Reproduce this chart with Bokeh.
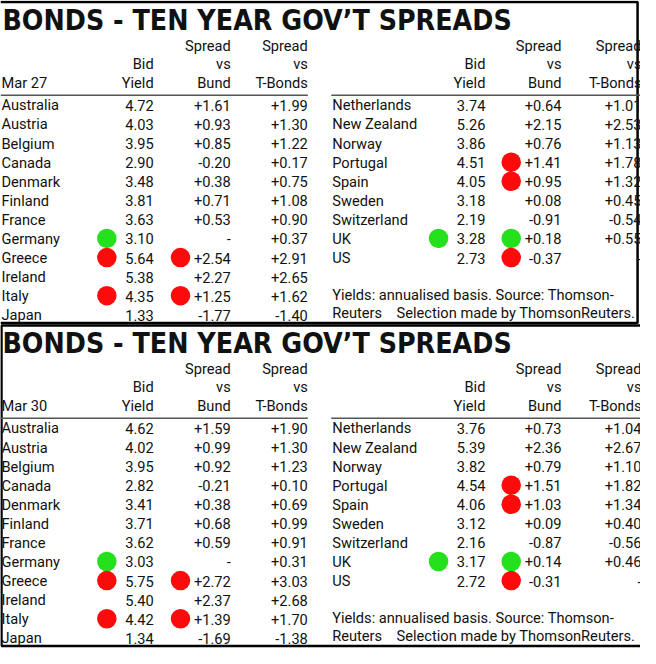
from bokeh.plotting import figure
from bokeh.models import Range1d, ColumnDataSource
from bokeh.embed import file_html
from bokeh.resources import INLINE
from bokeh.core.properties import value

# ---------------- data ----------------
title_text = "BONDS - TEN YEAR GOV\u2019T SPREADS"
dates = ["Mar 27", "Mar 30"]

countries_left = ["Australia", "Austria", "Belgium", "Canada", "Denmark", "Finland",
                  "France", "Germany", "Greece", "Ireland", "Italy", "Japan"]
countries_right = ["Netherlands", "New Zealand", "Norway", "Portugal", "Spain",
                   "Sweden", "Switzerland", "UK", "US"]

# Mar 27
yield_l_27 = [4.72, 4.03, 3.95, 2.90, 3.48, 3.81, 3.63, 3.10, 5.64, 5.38, 4.35, 1.33]
bund_l_27 = [1.61, 0.93, 0.85, -0.20, 0.38, 0.71, 0.53, None, 2.54, 2.27, 1.25, -1.77]
tb_l_27 = [1.99, 1.30, 1.22, 0.17, 0.75, 1.08, 0.90, 0.37, 2.91, 2.65, 1.62, -1.40]
yield_r_27 = [3.74, 5.26, 3.86, 4.51, 4.05, 3.18, 2.19, 3.28, 2.73]
bund_r_27 = [0.64, 2.15, 0.76, 1.41, 0.95, 0.08, -0.91, 0.18, -0.37]
tb_r_27 = [1.01, 2.53, 1.13, 1.78, 1.32, 0.45, -0.54, 0.55, None]

# Mar 30
yield_l_30 = [4.62, 4.02, 3.95, 2.82, 3.41, 3.71, 3.62, 3.03, 5.75, 5.40, 4.42, 1.34]
bund_l_30 = [1.59, 0.99, 0.92, -0.21, 0.38, 0.68, 0.59, None, 2.72, 2.37, 1.39, -1.69]
tb_l_30 = [1.90, 1.30, 1.23, 0.10, 0.69, 0.99, 0.91, 0.31, 3.03, 2.68, 1.70, -1.38]
yield_r_30 = [3.76, 5.39, 3.82, 4.54, 4.06, 3.12, 2.16, 3.17, 2.72]
bund_r_30 = [0.73, 2.36, 0.79, 1.51, 1.03, 0.09, -0.87, 0.14, -0.31]
tb_r_30 = [1.04, 2.67, 1.10, 1.82, 1.34, 0.40, -0.56, 0.46, None]

# signal dots (g = green, r = red, None = no dot)
yield_dot_l = [None, None, None, None, None, None, None, "g", "r", None, "r", None]
bund_dot_l = [None, None, None, None, None, None, None, None, "r", None, "r", None]
yield_dot_r = [None, None, None, None, None, None, None, "g", None]
bund_dot_r = [None, None, None, "r", "r", None, None, "g", "r"]

footnote_1 = "Yields: annualised basis. Source: Thomson-"
footnote_2a = "Reuters"
footnote_2b = "Selection made by ThomsonReuters."

panels = [
    (dates[0], yield_l_27, bund_l_27, tb_l_27, yield_r_27, bund_r_27, tb_r_27),
    (dates[1], yield_l_30, bund_l_30, tb_l_30, yield_r_30, bund_r_30, tb_r_30),
]

# ---------------- layout ----------------
W_REF, H_REF = 656, 664
W, H = 640, 648
S = W / W_REF

BODY_FONT = value("Roboto")
TITLE_FONT = value("DejaVu Sans Condensed")
BODY_PX = 15.0
TITLE_PX = 29.0
TXT = "#111111"
RED = "#ff0a0a"
GREEN = "#25e01c"

p = figure(width=W, height=H, x_range=Range1d(0, W_REF), y_range=Range1d(H_REF, 0),
           output_backend="svg", toolbar_location=None, min_border=0,
           x_axis_location=None, y_axis_location=None)
p.xgrid.visible = False
p.ygrid.visible = False
p.outline_line_color = None
p.background_fill_color = "white"
p.border_fill_color = "white"


def fmt_y(v):
    return f"{v:.2f}"


def fmt_s(v):
    return "-" if v is None else f"{v:+.2f}"


def add_text(xs, ys, texts, align="left", size=BODY_PX, font=BODY_FONT, style="normal"):
    src = ColumnDataSource(dict(x=xs, y=ys, t=texts))
    p.text(x="x", y="y", text="t", source=src, text_align=align,
           text_baseline="middle", text_font=font, text_font_size=f"{size * S:.2f}px",
           text_font_style=style, text_color=TXT)


panel_tops = [0, 331]
ROW0 = 107.5           # visual centre of first row
ROW_DY = 19.55
col_l = dict(name=1, yld=157, bund=236, tb=315)
col_r = dict(name=340, yld=497, bund=575, tb=657)

# panel frames
p.multi_line(xs=[[0, 653, 653, 0]], ys=[[1.5, 1.5, 330.5, 330.5]],
             line_color="black", line_width=2.5)
p.quad(left=1, right=657, top=333, bottom=661.5, fill_color=None,
       line_color="black", line_width=2.5)

for top, (date, yl, bl, tl, yr, br, tr) in zip(panel_tops, panels):
    # title
    add_text([2], [top + 20.5], [title_text], size=TITLE_PX, font=TITLE_FONT, style="bold")
    # headers
    for col in (col_l, col_r):
        add_text([col["bund"], col["tb"]], [top + 46.5] * 2, ["Spread", "Spread"], align="right")
        add_text([col["yld"], col["bund"], col["tb"]], [top + 65] * 3, ["Bid", "vs", "vs"], align="right")
        add_text([col["yld"], col["bund"], col["tb"]], [top + 85] * 3, ["Yield", "Bund", "T-Bonds"], align="right")
        p.line([col["name"] - 1, col["tb"]], [top + 97, top + 97], line_color="#555555", line_width=1.5)
    add_text([col_l["name"]], [top + 85], [date])

    # rows
    for col, names, ys_, bs_, ts_, ydots, bdots in (
            (col_l, countries_left, yl, bl, tl, yield_dot_l, bund_dot_l),
            (col_r, countries_right, yr, br, tr, yield_dot_r, bund_dot_r)):
        centres = [top + ROW0 + i * ROW_DY for i in range(len(names))]
        # dots
        for dots, cx in ((ydots, col["yld"] - 48), (bdots, col["bund"] - 51.5)):
            xs = [cx for d in dots if d]
            yy = [c - 0.5 for c, d in zip(centres, dots) if d]
            cc = [GREEN if d == "g" else RED for d in dots if d]
            p.circle(x=xs, y=yy, radius=10, fill_color=cc, line_color=None)
        add_text([col["name"]] * len(names), centres, names)
        add_text([col["yld"]] * len(names), centres, [fmt_y(v) for v in ys_], align="right")
        add_text([col["bund"]] * len(names), centres, [fmt_s(v) for v in bs_], align="right")
        add_text([col["tb"]] * len(names), centres, [fmt_s(v) for v in ts_], align="right")

    # footnote
    add_text([col_r["name"]], [top + 302], [footnote_1])
    add_text([col_r["name"], 406], [top + 320.5] * 2, [footnote_2a, footnote_2b])

open("out.html", "w").write(file_html(p, INLINE))
